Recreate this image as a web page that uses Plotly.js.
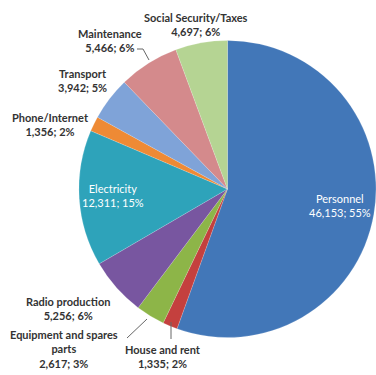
<!DOCTYPE html>
<html>
<head>
<meta charset="utf-8">
<script src="https://cdn.plot.ly/plotly-3.0.1.min.js"></script>
<style>html,body{margin:0;padding:0;background:#fff;}#chart{width:376px;height:375px;}</style>
</head>
<body>
<div id="chart"></div>
<script>
const categories = ["Personnel", "House and rent", "Equipment and spares parts", "Radio production", "Electricity", "Phone/Internet", "Transport", "Maintenance", "Social Security/Taxes"];
const values = [46153, 1335, 2617, 5256, 12311, 1356, 3942, 5466, 4697];
const valueLabels = ["46,153", "1,335", "2,617", "5,256", "12,311", "1,356", "3,942", "5,466", "4,697"];
const pctLabels = ["55%", "2%", "3%", "6%", "15%", "2%", "5%", "6%", "6%"];
const colors = ["#4277B8", "#C4403E", "#8DB548", "#7856A0", "#2EA3BA", "#EE8A35", "#7FA3D8", "#D48A8C", "#B5D493"];

// label layout (pixels) and display names with line breaks
const displayNames = ["Personnel", "House and rent", "Equipment and spares<br>parts", "Radio production", "Electricity", "Phone/Internet", "Transport", "Maintenance", "Social Security/Taxes"];
const labelPos = [
  [340, 205], [163, 356], [64, 349], [68, 308], [113, 195], [50, 124], [82, 81], [110, 40], [196, 24]
];
const labelColor = ["#ffffff", "#333", "#333", "#333", "#ffffff", "#333", "#333", "#333", "#333"];
const W = 376, H = 375;

const annotations = categories.map((c, i) => ({
  xref: "paper", yref: "paper",
  x: labelPos[i][0] / W, y: 1 - labelPos[i][1] / H,
  xanchor: "center", yanchor: "middle",
  text: displayNames[i] + "<br>" + valueLabels[i] + "; " + pctLabels[i],
  showarrow: false,
  font: {family: "Lato, 'Open Sans', sans-serif", size: 11, color: labelColor[i], weight: (labelColor[i] === "#ffffff") ? "normal" : "bold"}
}));

const leader = (pts) => ({type: "path", xref: "paper", yref: "paper",
  path: pts.map((p, k) => (k ? "L" : "M") + (p[0] / W) + "," + (1 - p[1] / H)).join(" "),
  line: {color: "#666", width: 1}});

const data = [{
  type: "pie",
  labels: categories,
  values: values,
  sort: false,
  direction: "clockwise",
  rotation: 0,
  marker: {colors: colors, line: {color: "rgba(255,255,255,0.3)", width: 0.5}},
  textinfo: "none",
  hoverinfo: "label+value+percent",
  domain: {x: [0.21, 1.0], y: [0.099, 0.893]},
  showlegend: false
}];

const layout = {
  width: W, height: H,
  margin: {l: 0, r: 0, t: 0, b: 0},
  paper_bgcolor: "#fff",
  annotations: annotations,
  shapes: [
    leader([[137, 49], [143, 49], [149, 60]]),
    leader([[127, 338], [147, 319]]),
    leader([[171, 322], [171, 339]])
  ]
};

Plotly.newPlot("chart", data, layout, {displayModeBar: false, staticPlot: true});
</script>
</body>
</html>
